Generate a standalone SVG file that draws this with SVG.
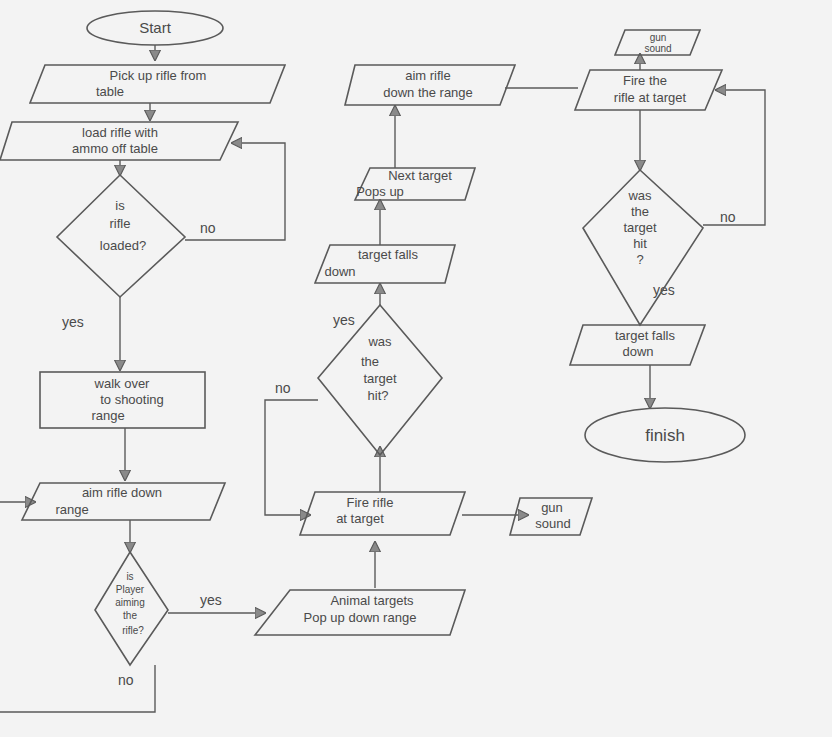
<svg xmlns="http://www.w3.org/2000/svg" width="832" height="737" viewBox="0 0 832 737">
<style>
.s{fill:none;stroke:#5a5a5a;stroke-width:1.6}
.c{fill:none;stroke:#5a5a5a;stroke-width:1.4}
text{font-family:"Liberation Sans",sans-serif;font-size:13px;fill:#4a4a4a;text-anchor:middle}
.l{text-anchor:start;font-size:14px}
.sm{font-size:10px}
</style>
<defs><marker id="a" viewBox="0 0 10 10" refX="9" refY="5" markerWidth="8" markerHeight="8" orient="auto"><path d="M0,0L10,5L0,10z" fill="#8a8a8a" stroke="#5a5a5a"/></marker></defs>
<rect width="832" height="737" fill="#f3f3f3"/>
<g id="connectors">
<path class="c" d="M155,45V60" marker-end="url(#a)"/>
<path class="c" d="M150,103V120" marker-end="url(#a)"/>
<path class="c" d="M120,160V175" marker-end="url(#a)"/>
<path class="c" d="M185,240H285V143H232" marker-end="url(#a)"/>
<path class="c" d="M120,297V370" marker-end="url(#a)"/>
<path class="c" d="M125,428V480" marker-end="url(#a)"/>
<path class="c" d="M0,502H35" marker-end="url(#a)"/>
<path class="c" d="M130,520V552" marker-end="url(#a)"/>
<path class="c" d="M168,613H265" marker-end="url(#a)"/>
<path class="c" d="M155,665V712H0"/>
<path class="c" d="M375,588V542" marker-end="url(#a)"/>
<path class="c" d="M462,515H528" marker-end="url(#a)"/>
<path class="c" d="M380,492V447" marker-end="url(#a)"/>
<path class="c" d="M318,400H265V515H310" marker-end="url(#a)"/>
<path class="c" d="M380,305V284" marker-end="url(#a)"/>
<path class="c" d="M380,245V200" marker-end="url(#a)"/>
<path class="c" d="M395,168V106" marker-end="url(#a)"/>
<path class="c" d="M505,88H578"/>
<path class="c" d="M640,70V54" marker-end="url(#a)"/>
<path class="c" d="M640,110V170" marker-end="url(#a)"/>
<path class="c" d="M703,225H765V90H716" marker-end="url(#a)"/>
<path class="c" d="M650,365V408" marker-end="url(#a)"/>
</g>
<text class="l" x="200" y="233">no</text>
<text class="l" x="62" y="327">yes</text>
<text class="l" x="200" y="605">yes</text>
<text class="l" x="118" y="685">no</text>
<text class="l" x="275" y="393">no</text>
<text class="l" x="333" y="325">yes</text>
<text class="l" x="720" y="222">no</text>
<text class="l" x="653" y="295">yes</text>
<g id="start"><ellipse class="s" cx="155" cy="28" rx="68" ry="17"/><text x="155" y="33" style="font-size:15px">Start</text></g>
<g id="pickup"><path class="s" d="M45,65H285L270,103H30Z"/><text x="158" y="80">Pick up rifle from</text><text x="110" y="96">table</text></g>
<g id="load"><path class="s" d="M12,122H238L220,160H0Z"/><text x="120" y="137">load rifle with</text><text x="115" y="153">ammo off table</text></g>
<g id="loaded"><path class="s" d="M120,175L185,237L120,297L57,237Z"/><text x="120" y="210">is</text><text x="120" y="228">rifle</text><text x="123" y="250">loaded?</text></g>
<g id="walk"><rect class="s" x="40" y="372" width="165" height="56"/><text x="122" y="388">walk over</text><text x="132" y="404">to shooting</text><text x="108" y="420">range</text></g>
<g id="aim1"><path class="s" d="M40,483H225L210,520H22Z"/><text x="122" y="497">aim rifle down</text><text x="72" y="514">range</text></g>
<g id="aiming"><path class="s" d="M130,552L168,610L130,665L95,610Z"/><text class="sm" x="130" y="580">is</text><text class="sm" x="130" y="593">Player</text><text class="sm" x="130" y="606">aiming</text><text class="sm" x="130" y="619">the</text><text class="sm" x="133" y="634">rifle?</text></g>
<g id="animal"><path class="s" d="M290,590H465L450,635H255Z"/><text x="372" y="605">Animal targets</text><text x="360" y="622">Pop up down range</text></g>
<g id="fire1"><path class="s" d="M315,492H465L450,535H300Z"/><text x="370" y="507">Fire rifle</text><text x="360" y="523">at target</text></g>
<g id="gun1"><path class="s" d="M520,498H592L580,535H510Z"/><text x="552" y="512">gun</text><text x="553" y="528">sound</text></g>
<g id="hit1"><path class="s" d="M380,305L442,378L380,455L318,378Z"/><text x="380" y="346">was</text><text x="370" y="366">the</text><text x="380" y="383">target</text><text x="378" y="400">hit?</text></g>
<g id="falls1"><path class="s" d="M330,245H455L445,283H315Z"/><text x="388" y="259">target falls</text><text x="340" y="276">down</text></g>
<g id="next"><path class="s" d="M370,168H475L465,200H355Z"/><text x="420" y="180">Next target</text><text x="380" y="196">Pops up</text></g>
<g id="aim2"><path class="s" d="M355,65H515L500,105H345Z"/><text x="428" y="80">aim rifle</text><text x="428" y="97">down the range</text></g>
<g id="fire2"><path class="s" d="M590,70H722L705,110H575Z"/><text x="645" y="85">Fire the</text><text x="650" y="102">rifle at target</text></g>
<g id="gun2"><path class="s" d="M625,30H700L690,55H615Z"/><text class="sm" x="658" y="41">gun</text><text class="sm" x="658" y="52">sound</text></g>
<g id="hit2"><path class="s" d="M640,170L703,228L640,325L583,228Z"/><text x="640" y="200">was</text><text x="640" y="216">the</text><text x="640" y="232">target</text><text x="640" y="248">hit</text><text x="640" y="264">?</text></g>
<g id="falls2"><path class="s" d="M583,325H705L690,365H570Z"/><text x="645" y="340">target falls</text><text x="638" y="356">down</text></g>
<g id="finish"><ellipse class="s" cx="665" cy="435" rx="80" ry="27"/><text x="665" y="441" style="font-size:17px">finish</text></g>
</svg>
